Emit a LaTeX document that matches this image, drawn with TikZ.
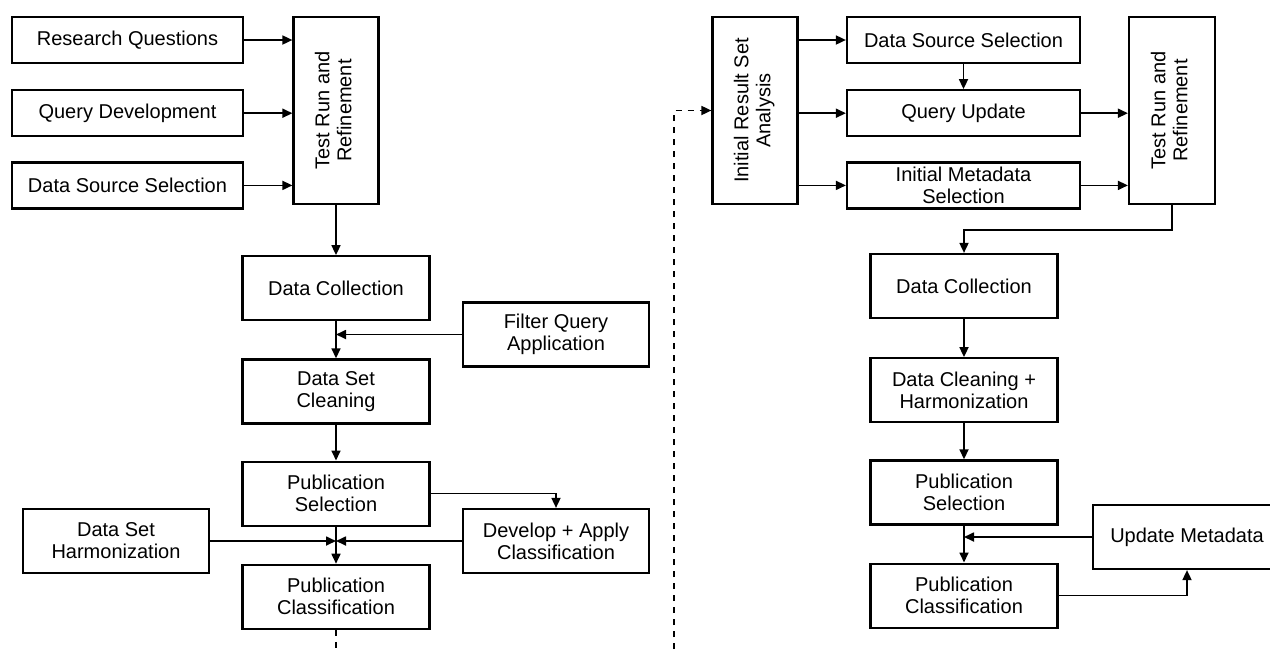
\documentclass[tikz,border=0pt]{standalone}
\usepackage{fontspec}
\setmainfont{Liberation Sans}
\usepackage{graphicx}
\usetikzlibrary{arrows.meta,positioning}

\newcommand{\uprot}[1]{\rotatebox{90}{\begin{tabular}{@{}c@{}}#1\end{tabular}}}

\begin{document}
\begin{tikzpicture}[
    x=1pt, y=-1pt,
    box/.style={draw, line width=2.2pt, inner sep=0pt, align=center,
                font=\fontsize{20}{22}\selectfont},
    wide/.style={box, minimum width=231pt, minimum height=46pt},
    step box/.style={box, minimum width=187pt, minimum height=64pt},
    tall/.style={box, minimum width=85pt, minimum height=187pt},
    arr/.style={-{Triangle[length=10pt,width=9pt]}, line width=1.7pt},
    dsh/.style={line width=1.7pt, dash pattern=on 6pt off 6pt}
]
\clip (0,0) rectangle (1270,649);
% Left: query design
\node[wide] (rq) at (127.5,40) {Research Questions};
\node[wide, below=25pt of rq] (qd) {Query Development};
\node[wide, below=24pt of qd] (dssL) {Data Source Selection};
\node[tall] (trL) at (336,110.5) {\uprot{Test Run and\\Refinement}};
% Left: processing chain
\node[step box, below=50pt of trL] (dcL) {Data Collection};
\node[step box, below=37pt of dcL] (dsc) {Data Set\\Cleaning};
\node[step box, below=36pt of dsc] (psL) {Publication\\Selection};
\node[step box, below=37pt of psL] (pcL) {Publication\\Classification};
\node[step box, minimum width=186pt] (fqa) at (556,334.5) {Filter Query\\Application};
\node[step box, minimum width=186pt] (dac) at (556,541) {Develop + Apply\\Classification};
\node[step box, minimum width=186pt] (dsh) at (116,541) {Data Set\\Harmonization};
\coordinate (endL) at (336,649);
% Right: update cycle
\node[tall] (init) at (755,110.5) {\uprot{Initial Result Set\\Analysis}};
\node[wide, minimum width=233pt] (dssR) at (963.5,40) {Data Source Selection};
\node[wide, minimum width=233pt, below=25pt of dssR] (qu) {Query Update};
\node[wide, minimum width=233pt, below=24pt of qu] (ims) {Initial Metadata\\Selection};
\node[tall, minimum width=86pt] (trR) at (1172,110.5) {\uprot{Test Run and\\Refinement}};
\node[step box] (dcR) at (964,286) {Data Collection};
\node[step box, below=38pt of dcR] (dch) {Data Cleaning +\\Harmonization};
\node[step box, below=36pt of dch] (psR) {Publication\\Selection};
\node[step box, below=37pt of psR] (pcR) {Publication\\Classification};
\node[step box, minimum width=188pt] (um) at (1187,537) {Update Metadata};
\coordinate (startR) at (674,649);
% Arrows left
\draw[arr] (rq) -- (rq -| trL.west);
\draw[arr] (qd) -- (qd -| trL.west);
\draw[arr] (dssL) -- (dssL -| trL.west);
\draw[arr] (trL) -- (dcL);
\draw[arr] (dcL) -- (dsc);
\draw[arr] (fqa.west) -- (dcL |- fqa.west);
\draw[arr] (dsc) -- (psL);
\draw[arr] (psL) -- (pcL);
\draw[arr] (psL.east) -| (dac.north);
\draw[arr] (dsh.east) -- (psL |- dsh.east);
\draw[arr] (dac.west) -- (psL |- dac.west);
\draw[dsh] (pcL.south) -- (endL);
% Arrows right
\draw[arr, dsh] (startR) |- (init.west);
\draw[arr] (init.east |- dssR) -- (dssR.west);
\draw[arr] (init.east |- qu) -- (qu.west);
\draw[arr] (init.east |- ims) -- (ims.west);
\draw[arr] (dssR) -- (qu);
\draw[arr] (qu) -- (qu -| trR.west);
\draw[arr] (ims) -- (ims -| trR.west);
\draw[arr] (trR.south) -- ++(0,25) -| (dcR.north);
\draw[arr] (dcR) -- (dch);
\draw[arr] (dch) -- (psR);
\draw[arr] (psR) -- (pcR);
\draw[arr] (um.west) -- (psR |- um.west);
\draw[arr] (pcR.east) -| (um.south);
\end{tikzpicture}
\end{document}
